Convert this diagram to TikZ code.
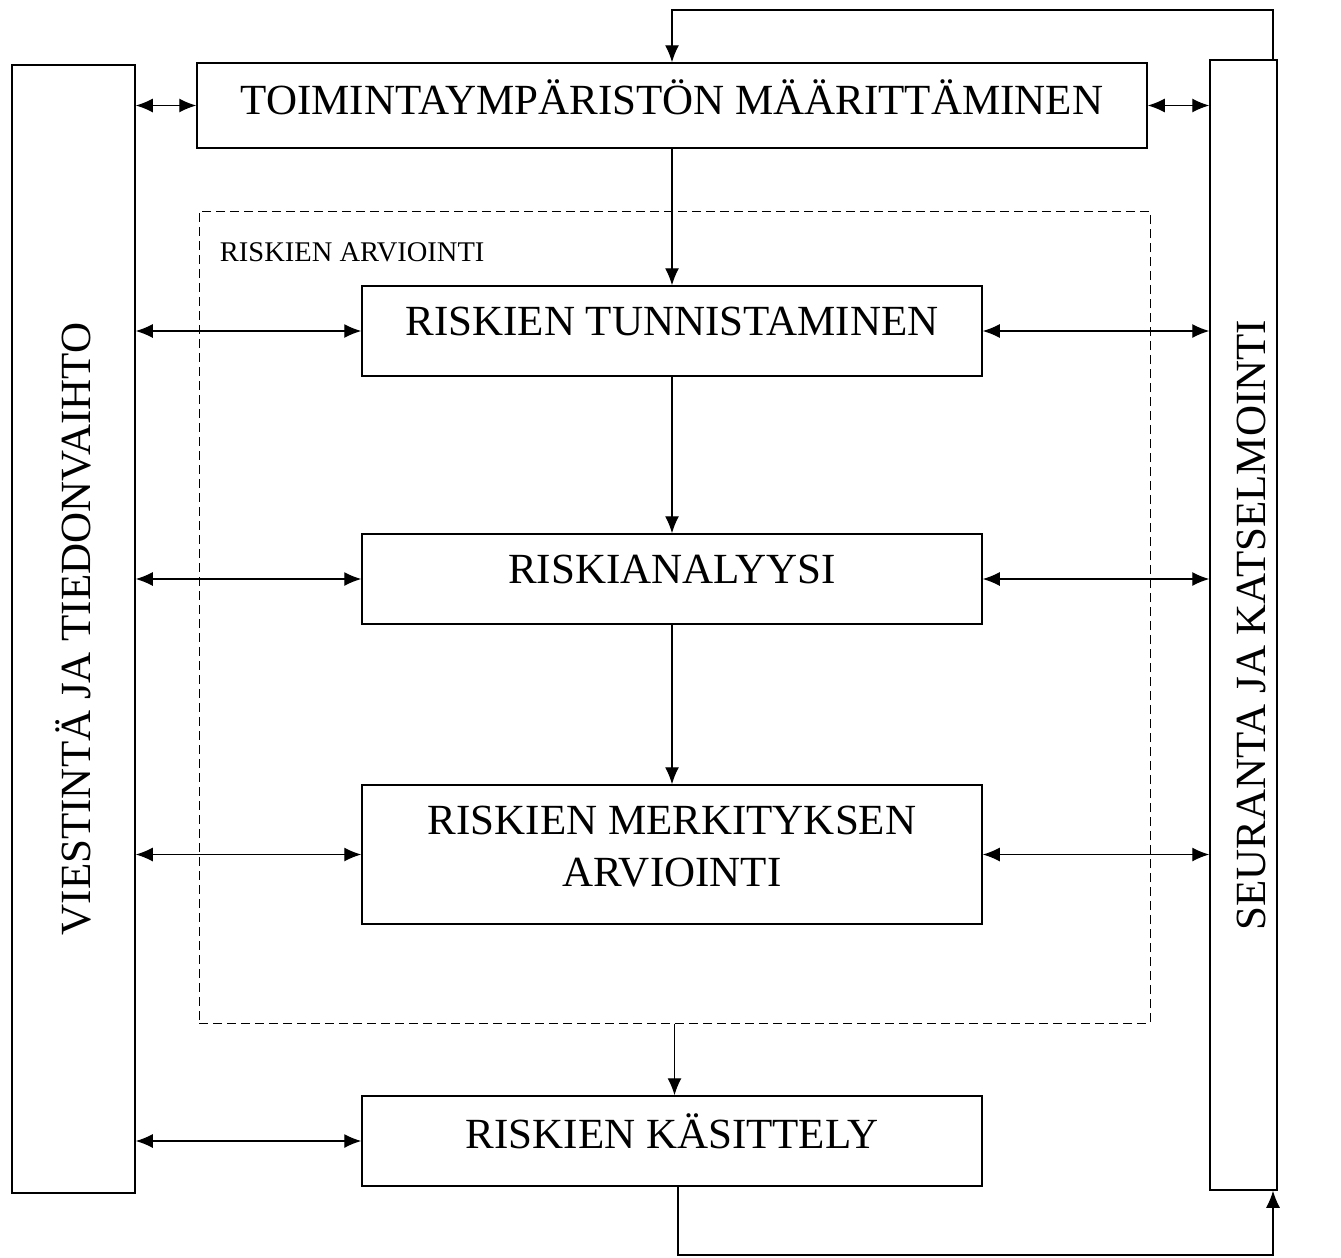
\documentclass[tikz,border=0pt]{standalone}
\usepackage{fontspec}
\setmainfont{Liberation Serif}
\usetikzlibrary{arrows.meta}
\tikzset{
  stage/.style={draw,line width=1.5pt,minimum width=620pt,minimum height=90pt,inner sep=0pt,text depth=19pt,align=center,font=\fontsize{43}{52}\selectfont},
  side/.style={draw,line width=1.5pt,rotate=90,inner sep=0pt,font=\fontsize{43}{48}\selectfont},
}
\begin{document}
\begin{tikzpicture}[x=1pt,y=-1pt,line width=1.3pt,>={Latex[length=17pt,width=14pt]}]
\useasboundingbox (0,0) rectangle (1341,1258);
\node [side,minimum width=1128pt,minimum height=123pt] (viesti) at (73.5,629) {VIESTINTÄ JA TIEDONVAIHTO};
\node [side,minimum width=1130pt,minimum height=67pt,text height=44pt,text depth=0pt] (seur) at (1243.5,625) {SEURANTA JA KATSELMOINTI};
\node [stage,minimum width=950pt,minimum height=85pt,text depth=17pt] (ctx) at (672,105.5) {TOIMINTAYMPÄRISTÖN MÄÄRITTÄMINEN};
\node [draw,dash pattern=on 9pt off 5pt,line width=1pt,minimum width=951pt,minimum height=812pt] (assess) at (674.5,617) {};
\node [anchor=west,font=\fontsize{28.5}{32}\selectfont] (assesslbl) at (216,252) {RISKIEN ARVIOINTI};
\node [stage] (tunn) at (672,331) {RISKIEN TUNNISTAMINEN};
\node [stage] (anal) at (672,579) {RISKIANALYYSI};
\node [stage,minimum height=139pt,text depth=16pt] (merk) at (672,854.5) {RISKIEN MERKITYKSEN\\ARVIOINTI};
\node [stage] (kas) at (672,1141) {RISKIEN KÄSITTELY};
% flow down
\draw[->] (ctx.south) -- (tunn.north);
\draw[->] (tunn.south) -- (anal.north);
\draw[->] (anal.south) -- (merk.north);
\draw[->] (assess.south) -- (assess.south |- kas.north);
% feedback loops
\draw[->] ([xshift=29.5pt]seur.east) |- (672,10) -- (ctx.north);
\draw[->] ([xshift=6pt]kas.south) |- (1273,1255) -- ([xshift=29.5pt]seur.west);
% communication and monitoring
\draw[<->] (viesti.south |- ctx.west) -- (ctx.west);
\draw[<->] (ctx.east) -- (seur.north |- ctx.east);
\foreach \n in {tunn,anal,merk,kas}
  \draw[<->] (viesti.south |- \n.west) -- (\n.west);
\foreach \n in {tunn,anal,merk}
  \draw[<->] (\n.east) -- (seur.north |- \n.east);
\end{tikzpicture}
\end{document}
